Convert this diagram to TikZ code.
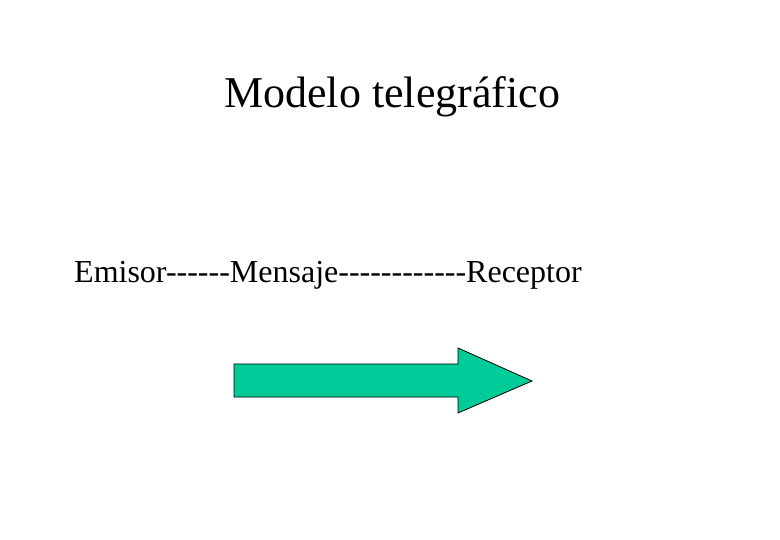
\documentclass[tikz,border=0pt]{standalone}
\usepackage{fontspec}
\setmainfont{Liberation Serif}[Ligatures=TeXOff]
\usetikzlibrary{positioning}

\definecolor{arrowgreen}{HTML}{00CC99}

\tikzset{
  titletext/.style={font=\fontsize{44}{48}\selectfont,inner sep=0pt},
  linetext/.style={font=\fontsize{32}{36}\selectfont,inner sep=0pt},
  bigarrow/.style={fill=arrowgreen,draw=black,line width=0.8pt,line join=miter}
}

\begin{document}
\begin{tikzpicture}[x=1pt,y=-1pt]
\useasboundingbox (0,0) rectangle (780,540);
\node[titletext,anchor=base west] (title) at (224,108) {Modelo telegráfico};
\node[linetext,anchor=base west] (modelo) at (74,283) {Emisor------Mensaje------------Receptor};
% flecha
\draw[bigarrow] (234,364) -- (458,364) -- (458,348) -- (532,381) -- (458,413) -- (458,397) -- (234,397) -- cycle;
\end{tikzpicture}
\end{document}
